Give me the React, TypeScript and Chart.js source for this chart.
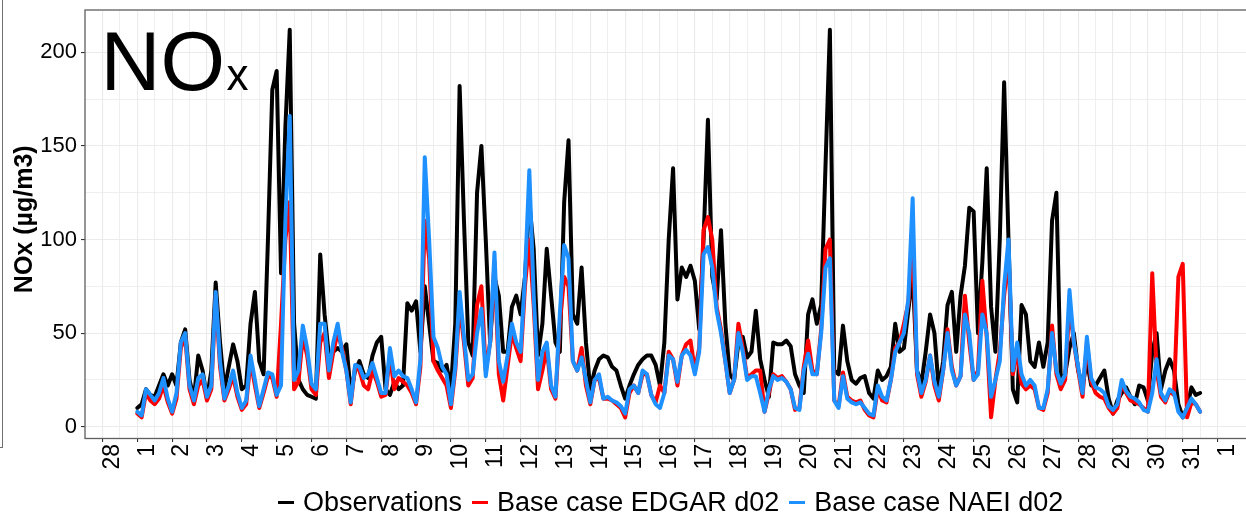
import React, { useEffect, useRef } from "react";
import { Chart, registerables } from "chart.js";

Chart.register(...registerables);

// ---- Data (3-hourly values, starting 1 March 00:00) ----
const STEP_HOURS = 3;
const SERIES_NAMES = ["Observations", "Base case EDGAR d02", "Base case NAEI d02"];
const SERIES_COLORS = ["#000000", "#FF0000", "#1E90FF"];
const Y_TITLE = "NOx (µg/m3)";

// day tick labels for days -1 (28 Feb) .. 31 (1 Apr)
const DAY_LABELS = [
  "28", "1", "2", "3", "4", "5", "6", "7", "8", "9", "10", "11", "12", "13", "14", "15", "16",
  "17", "18", "19", "20", "21", "22", "23", "24", "25", "26", "27", "28", "29", "30", "31", "1",
];
const Y_TICKS = [0, 50, 100, 150, 200];

const observations = [
  10, 12, 20, 17, 16, 22, 28, 22, 28, 22,
  45, 52, 25, 15, 38, 30, 15, 30, 77, 45,
  20, 32, 44, 35, 20, 22, 55, 72, 35, 28,
  100, 180, 190, 82, 160, 212, 55, 25, 20, 17,
  16, 15, 92, 60, 38, 40, 42, 40, 44, 18,
  30, 35, 28, 26, 38, 45, 48, 20, 17, 24,
  20, 22, 66, 62, 67, 40, 75, 55, 35, 34,
  30, 33, 20, 55, 182, 110, 45, 38, 125, 150,
  100, 45, 80, 70, 40, 40, 64, 70, 60, 80,
  120, 95, 38, 55, 95, 70, 45, 40, 120, 153,
  60, 55, 85, 45, 20, 30, 36, 38, 37, 32,
  30, 22, 15, 22, 28, 33, 36, 38, 38, 33,
  22, 45, 100, 138, 68, 85, 80, 86, 78, 52,
  100, 164, 80, 68, 105, 55, 28, 25, 45, 48,
  37, 40, 62, 36, 25, 16, 45, 44, 44, 46,
  43, 28, 22, 18, 60, 68, 55, 65, 140, 212,
  30, 28, 54, 35, 25, 23, 26, 27, 18, 15,
  30, 25, 27, 32, 55, 40, 42, 62, 82, 30,
  23, 40, 60, 50, 20, 35, 65, 72, 40, 70,
  86, 117, 115, 50, 88, 138, 64, 40, 100, 184,
  100, 20, 13, 65, 60, 35, 32, 45, 32, 45,
  110, 125, 25, 28, 42, 50, 30, 22, 35, 22,
  22, 26, 30, 15, 7, 14, 18, 21, 16, 12,
  22, 21, 14, 40, 50, 20, 30, 36, 30, 12,
  5, 10, 21, 17, 18,
];

const edgarD02 = [
  7, 5, 18, 14, 12, 15, 22, 13, 7, 15,
  42, 48, 20, 12, 22, 25, 14, 20, 70, 32,
  14, 20, 27, 16, 9, 12, 35, 22, 10, 18,
  27, 26, 16, 55, 100, 120, 20, 24, 48, 38,
  20, 17, 45, 50, 26, 40, 50, 42, 30, 12,
  32, 30, 22, 20, 30, 24, 16, 17, 38, 20,
  26, 24, 22, 18, 12, 32, 110, 90, 35, 30,
  26, 22, 10, 30, 65, 45, 22, 26, 65, 75,
  30, 45, 88, 28, 14, 32, 50, 42, 35, 75,
  100, 65, 20, 30, 42, 20, 15, 55, 80, 75,
  35, 30, 42, 22, 12, 25, 26, 15, 15, 14,
  12, 10, 5, 18, 22, 18, 28, 28, 17, 13,
  22, 18, 40, 36, 22, 38, 44, 46, 30, 42,
  105, 112, 100, 64, 52, 35, 18, 25, 55, 42,
  26, 28, 30, 30, 8, 18, 28, 26, 27, 24,
  20, 9, 10, 32, 46, 30, 28, 52, 95, 100,
  14, 11, 29, 16, 14, 13, 14, 9, 6, 5,
  20, 14, 13, 25, 42, 45, 55, 66, 100, 28,
  16, 24, 38, 22, 14, 30, 52, 32, 22, 27,
  70, 45, 25, 30, 78, 48, 5, 25, 40, 70,
  92, 28, 40, 23, 20, 22, 20, 10, 9, 18,
  54, 28, 20, 25, 65, 45, 30, 16, 45, 24,
  18, 16, 15, 10, 7, 10, 23, 18, 14, 13,
  12, 10, 8, 82, 30, 16, 13, 19, 17, 80,
  87, 5, 13, 12, 8,
];

const naeiD02 = [
  8, 6, 20, 17, 14, 18, 26, 15, 8, 18,
  45, 50, 22, 14, 26, 28, 16, 22, 72, 35,
  15, 22, 30, 18, 10, 14, 38, 25, 11, 20,
  29, 28, 17, 22, 110, 166, 25, 30, 54, 42,
  23, 20, 55, 55, 30, 45, 55, 40, 30, 13,
  33, 32, 26, 28, 34, 26, 18, 18, 42, 27,
  30, 27, 26, 20, 13, 36, 144, 100, 48, 42,
  32, 28, 12, 32, 72, 48, 25, 28, 50, 63,
  27, 45, 93, 35, 24, 38, 55, 45, 40, 80,
  137, 70, 25, 40, 45, 22, 16, 60, 97, 90,
  35, 30, 37, 25, 13, 25, 28, 15, 16, 14,
  13, 11, 7, 20, 22, 18, 30, 28, 17, 12,
  10, 18, 38, 36, 24, 38, 41, 38, 28, 40,
  92, 96, 85, 62, 50, 35, 18, 25, 50, 40,
  25, 27, 27, 18, 8, 20, 27, 25, 26, 24,
  20, 10, 9, 30, 39, 28, 28, 50, 85, 90,
  14, 10, 27, 15, 13, 12, 13, 10, 7, 6,
  22, 16, 14, 25, 40, 45, 50, 68, 122, 30,
  18, 25, 38, 24, 16, 30, 50, 30, 22, 27,
  60, 50, 25, 28, 60, 50, 16, 25, 35, 75,
  100, 30, 45, 28, 22, 25, 22, 10, 10, 20,
  50, 30, 23, 28, 73, 45, 32, 18, 48, 26,
  21, 20, 18, 11, 9, 12, 25, 19, 16, 15,
  13, 9, 8, 18, 36, 18, 14, 20, 18, 8,
  5, 10, 15, 12, 8,
];

const SERIES = [observations, edgarD02, naeiD02];

// ---- Layout constants ----
const FONT = '"Liberation Sans", Arial, Helvetica, sans-serif';
const CANVAS_W = 1262;
const CANVAS_H = 518;
const X_MIN = -1.5;
const X_MAX = 32.025;
const Y_MIN = -6.3;
const Y_MAX = 222.6;

function dayOf(i: number) {
  return (i * STEP_HOURS) / 24;
}

function isInt(v: number) {
  return Math.abs(v - Math.round(v)) < 1e-6;
}

const titlePlugin = {
  id: "noxTitle",
  afterDatasetsDraw(chart: any) {
    const { ctx, chartArea } = chart;
    ctx.save();
    ctx.fillStyle = "#000";
    ctx.textBaseline = "alphabetic";
    ctx.textAlign = "left";
    ctx.font = `83px ${FONT}`;
    const x0 = chartArea.left + 15.5;
    const y0 = chartArea.top + 80;
    ctx.fillText("NO", x0, y0);
    const w = ctx.measureText("NO").width;
    ctx.font = `44px ${FONT}`;
    ctx.fillText("x", x0 + w + 1.5, y0);
    ctx.restore();
  },
};

const borderPlugin = {
  id: "panelBorder",
  afterDraw(chart: any) {
    const { ctx, chartArea } = chart;
    ctx.save();
    ctx.strokeStyle = "#5f5f5f";
    ctx.lineWidth = 1.3;
    ctx.strokeRect(chartArea.left, chartArea.top, chartArea.right - chartArea.left, chartArea.bottom - chartArea.top);
    // y axis title
    ctx.translate(25, (chartArea.top + chartArea.bottom) / 2 - 5);
    ctx.rotate(-Math.PI / 2);
    ctx.font = `bold 25px ${FONT}`;
    ctx.fillStyle = "#000";
    ctx.textAlign = "center";
    ctx.textBaseline = "middle";
    ctx.fillText(Y_TITLE, 0, 0);
    ctx.restore();
  },
};

export default function App() {
  const canvasRef = useRef<HTMLCanvasElement | null>(null);

  useEffect(() => {
    const canvas = canvasRef.current;
    if (!canvas) return;
    const xTicks: number[] = [];
    for (let k = 0; k < DAY_LABELS.length; k++) {
      xTicks.push(k - 1);
      if (k < DAY_LABELS.length - 1) xTicks.push(k - 0.5);
    }
    const yTicks: number[] = [];
    for (let v = 0; v <= Y_TICKS[Y_TICKS.length - 1]; v += 25) yTicks.push(v);

    const datasets = SERIES.map((vals, s) => ({
      label: SERIES_NAMES[s],
      data: vals.map((v, i) => ({ x: dayOf(i), y: v })),
      borderColor: SERIES_COLORS[s],
      backgroundColor: SERIES_COLORS[s],
      borderWidth: 4,
      pointRadius: 0,
      tension: 0,
      borderJoinStyle: "round" as const,
      borderCapStyle: "round" as const,
      fill: false,
      order: 3 - s,
    }));

    const chart = new Chart(canvas, {
      type: "line",
      data: { datasets },
      plugins: [titlePlugin, borderPlugin],
      options: {
        responsive: false,
        animation: false,
        devicePixelRatio: 1,
        layout: { padding: { left: 0, top: 10, right: CANVAS_W - 1253.3, bottom: 0 } },
        plugins: { legend: { display: false }, tooltip: { enabled: false } },
        font: { family: FONT },
        scales: {
          x: {
            type: "linear",
            min: X_MIN,
            max: X_MAX,
            afterBuildTicks: (scale: any) => {
              scale.ticks = xTicks.map((v) => ({ value: v }));
            },
            afterFit: (scale: any) => {
              scale.height = CANVAS_H - 438.5;
              scale.paddingLeft = 0;
              scale.paddingRight = 0;
            },
            border: { display: false },
            grid: {
              color: "#EBEBEB",
              lineWidth: (ctx: any) => (ctx.tick && isInt(ctx.tick.value) ? 1.1 : 0.8),
              tickLength: 3.5,
              tickWidth: 1.1,
              tickColor: (ctx: any) => (ctx.tick && isInt(ctx.tick.value) ? "#333333" : "rgba(0,0,0,0)"),
            },
            ticks: {
              autoSkip: false,
              maxRotation: 90,
              minRotation: 90,
              padding: 2,
              labelOffset: 10,
              color: "#000",
              font: { family: FONT, size: 23 },
              callback: (v: any) => {
                const n = Number(v);
                if (!isInt(n)) return "";
                const k = Math.round(n) + 1;
                return DAY_LABELS[k] ?? "";
              },
            },
          },
          y: {
            type: "linear",
            min: Y_MIN,
            max: Y_MAX,
            afterBuildTicks: (scale: any) => {
              scale.ticks = yTicks.map((v) => ({ value: v }));
            },
            afterFit: (scale: any) => {
              scale.width = 85;
              scale.paddingTop = 0;
              scale.paddingBottom = 0;
            },
            border: { display: false },
            grid: {
              color: "#EBEBEB",
              lineWidth: (ctx: any) => (ctx.tick && ctx.tick.value % 50 === 0 ? 1.1 : 0.8),
              tickLength: 4,
              tickWidth: 1.1,
              tickColor: (ctx: any) => (ctx.tick && ctx.tick.value % 50 === 0 ? "#333333" : "rgba(0,0,0,0)"),
            },
            ticks: {
              padding: 4,
              color: "#000",
              font: { family: FONT, size: 22 },
              callback: (v: any) => (Y_TICKS.includes(Number(v)) ? String(v) : ""),
            },
            title: { display: false },
          },
        },
      },
    } as any);
    return () => chart.destroy();
  }, []);

  return (
    <div
      style={{
        position: "fixed",
        left: 0,
        top: 0,
        width: 1246,
        height: 518,
        overflow: "hidden",
        background: "#fff",
      }}
    >
      <div
        style={{
          position: "absolute",
          left: -21,
          top: -5,
          width: 23,
          height: 452,
          borderRight: "1.5px solid #6f6f6f",
          borderBottom: "1.5px solid #6f6f6f",
        }}
      />
      <canvas
        ref={canvasRef}
        width={CANVAS_W}
        height={CANVAS_H}
        style={{ position: "absolute", left: 0, top: 0, width: CANVAS_W, height: CANVAS_H }}
      />
      <div
        style={{
          position: "absolute",
          left: 278,
          top: 489,
          display: "flex",
          alignItems: "center",
          fontFamily: FONT,
          fontSize: 27,
          lineHeight: "27px",
          color: "#000",
          whiteSpace: "nowrap",
        }}
      >
        {SERIES_NAMES.map((name, s) => (
          <div key={name} style={{ display: "flex", alignItems: "center", marginRight: 10 }}>
            <div style={{ width: 16, height: 3.5, background: SERIES_COLORS[s], marginRight: 9 }} />
            <span>{name}</span>
          </div>
        ))}
      </div>
    </div>
  );
}
